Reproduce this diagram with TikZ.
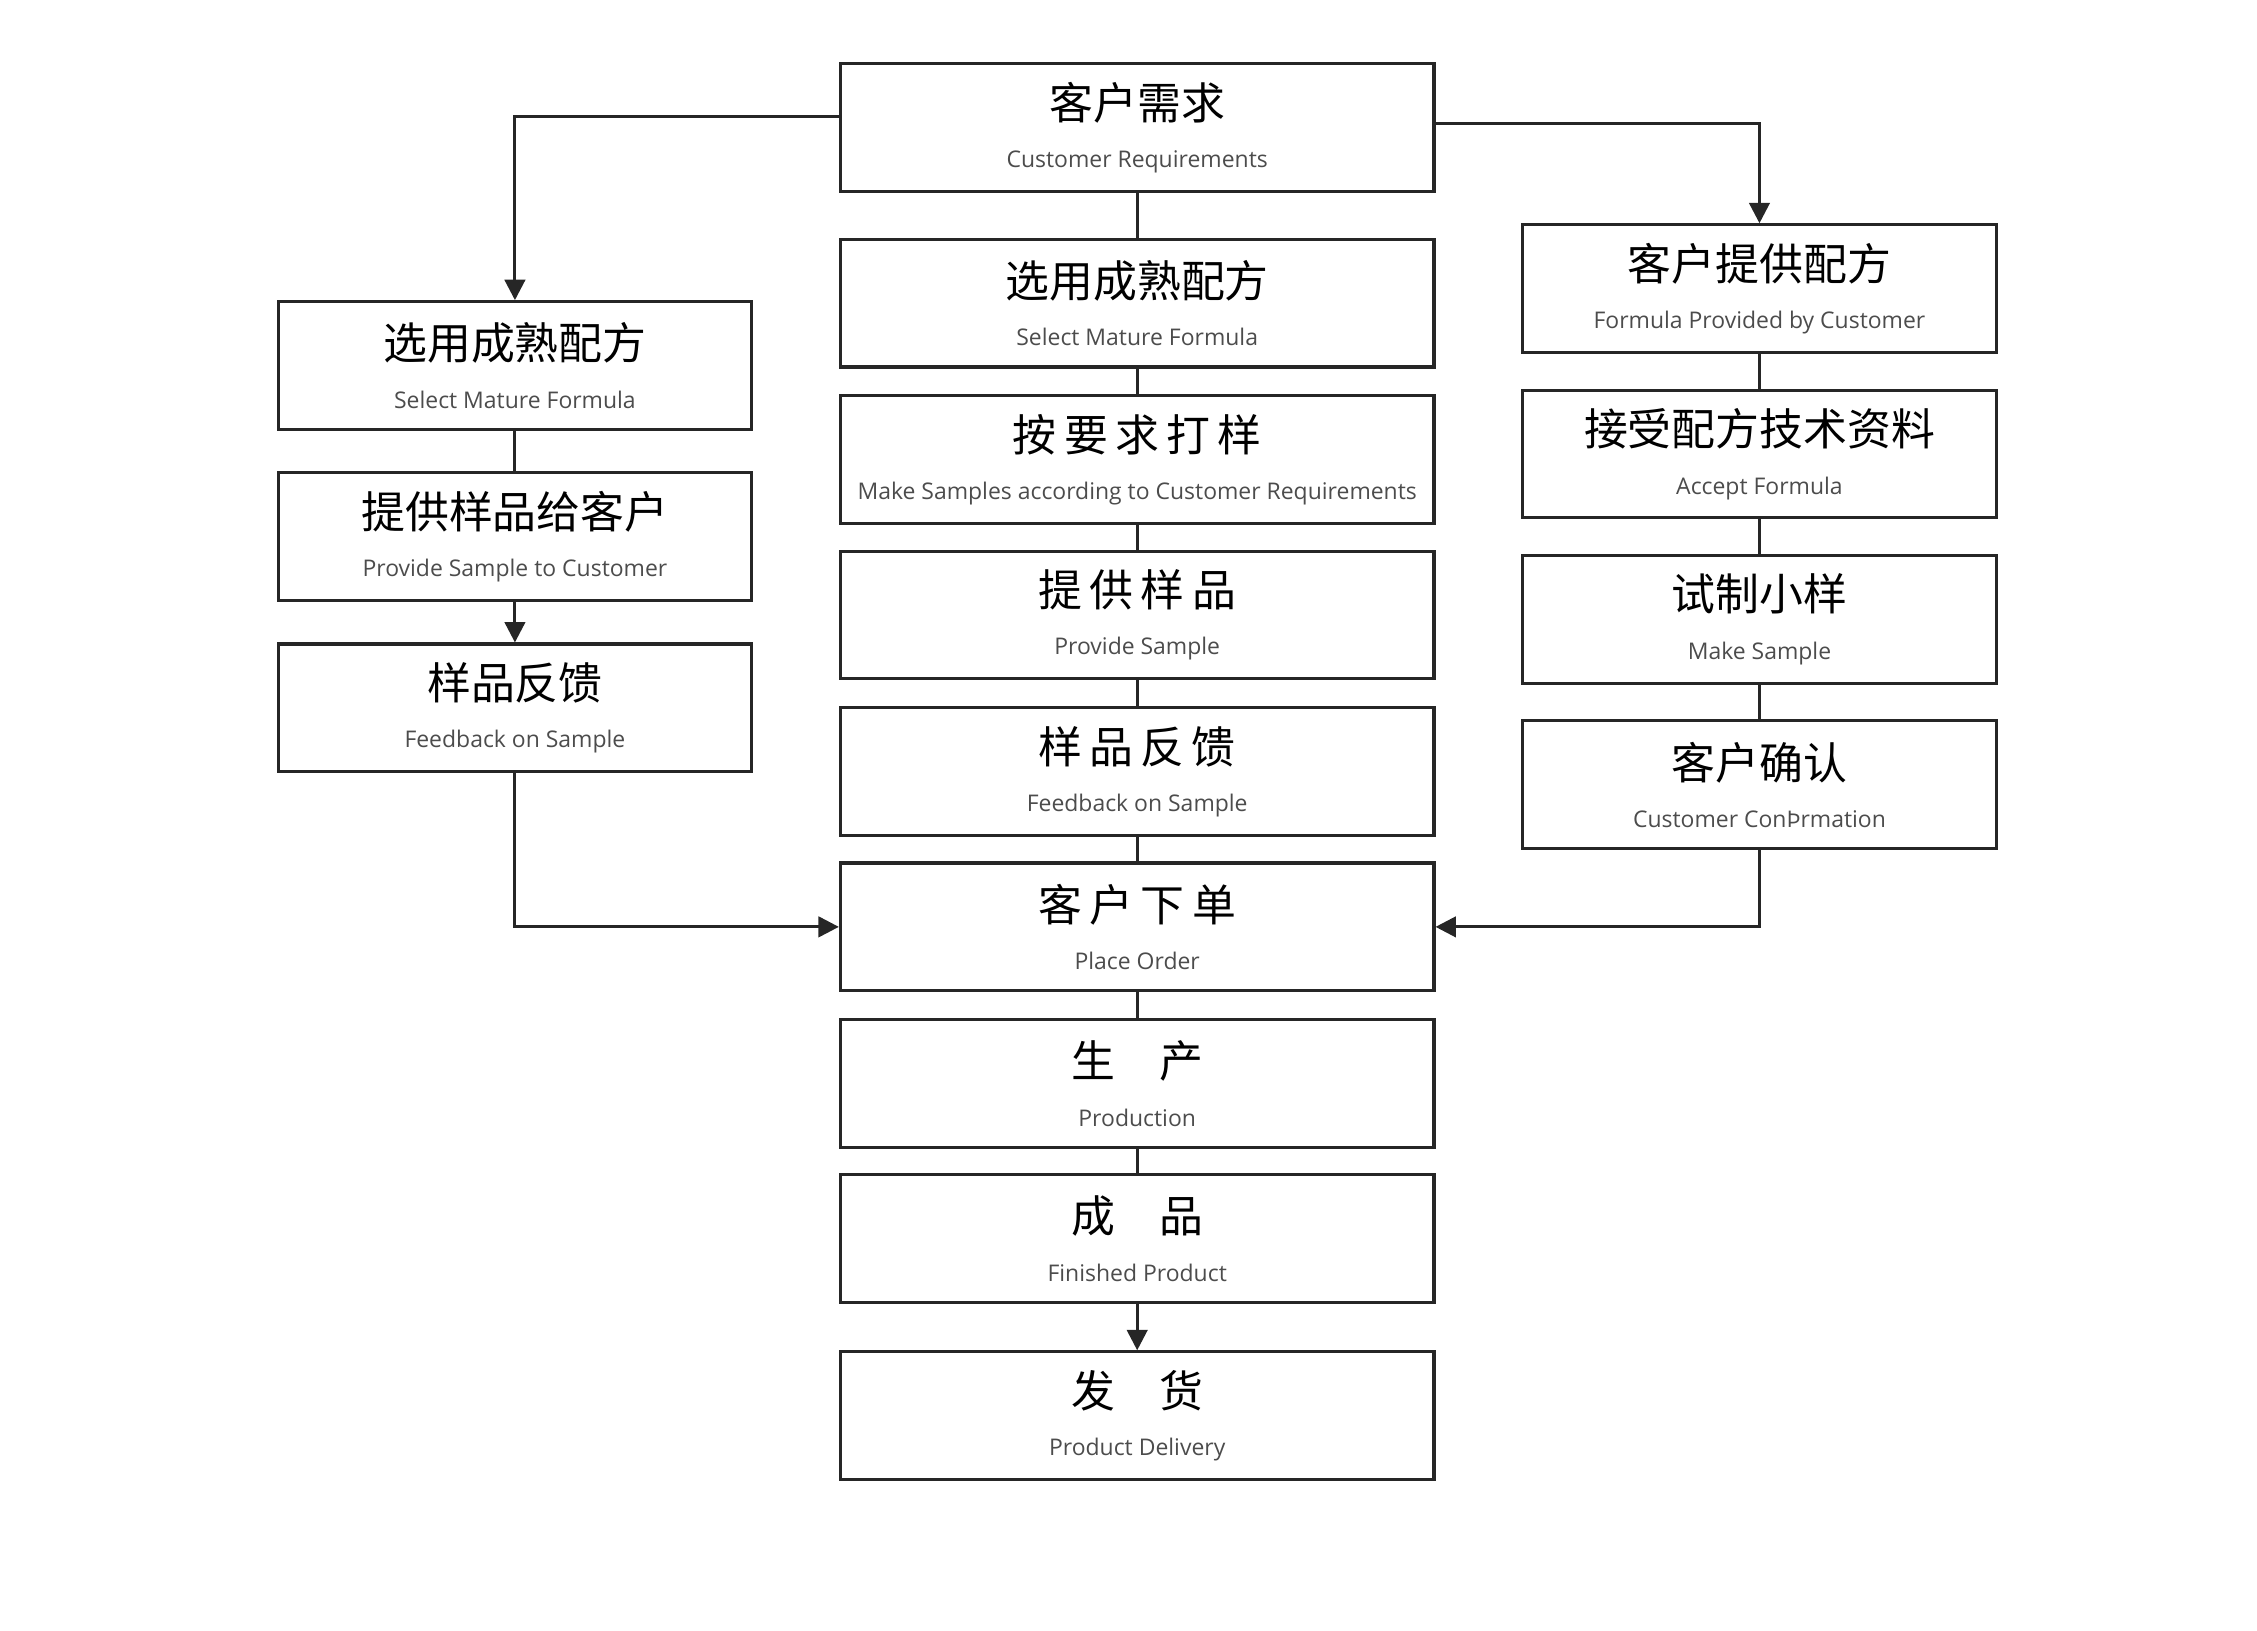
\documentclass[tikz,border=0pt]{standalone}
\usepackage{fontspec}
\setmainfont{Open Sans}
\newfontfamily\cjk{Noto Sans CJK SC}
\usetikzlibrary{arrows.meta}
\begin{document}
\begin{tikzpicture}[x=0.01cm,y=-0.01cm,
  box/.style={draw=black!85,line width=0.6pt,minimum height=0.88cm,inner sep=0pt,align=center},
  cbox/.style={box,minimum width=4.09cm},
  sbox/.style={box,minimum width=3.26cm},
  ln/.style={draw=black!85,line width=0.6pt},
  ar/.style={ln,-{Triangle[length=4pt,width=4pt]}}]
\useasboundingbox (0,0) rectangle (1556,1124);
\newcommand{\tx}[2]{{\cjk\fontsize{8.6pt}{9pt}\selectfont #1}\\[-2.5pt]{\fontsize{4.5pt}{5pt}\selectfont\color{black!70}#2}}
\node[cbox] (c1) at (784,88) {\tx{客户需求}{Customer Requirements}};
\node[cbox] (c2) at (784,209) {\tx{选用成熟配方}{Select Mature Formula}};
\node[cbox] (c3) at (784,317) {\tx{按\,要\,求\,打\,样}{Make Samples according to Customer Requirements}};
\node[cbox] (c4) at (784,424) {\tx{提\,供\,样\,品}{Provide Sample}};
\node[cbox] (c5) at (784,532) {\tx{样\,品\,反\,馈}{Feedback on Sample}};
\node[cbox] (c6) at (784,639) {\tx{客\,户\,下\,单}{Place Order}};
\node[cbox] (c7) at (784,747) {\tx{生\quad 产}{Production}};
\node[cbox] (c8) at (784,854) {\tx{成\quad 品}{Finished Product}};
\node[cbox] (c9) at (784,976) {\tx{发\quad 货}{Product Delivery}};
\node[sbox] (l1) at (355,252) {\tx{选用成熟配方}{Select Mature Formula}};
\node[sbox] (l2) at (355,370) {\tx{提供样品给客户}{Provide Sample to Customer}};
\node[sbox] (l3) at (355,488) {\tx{样品反馈}{Feedback on Sample}};
\node[sbox] (r1) at (1213,199) {\tx{客户提供配方}{Formula Provided by Customer}};
\node[sbox] (r2) at (1213,313) {\tx{接受配方技术资料}{Accept Formula}};
\node[sbox] (r3) at (1213,427) {\tx{试制小样}{Make Sample}};
\node[sbox] (r4) at (1213,541) {\tx{客户确认}{Customer ConÞrmation}};
\foreach \a/\b in {c1/c2,c2/c3,c3/c4,c4/c5,c5/c6,c6/c7,c7/c8,l1/l2,r1/r2,r2/r3,r3/r4}
  \draw[ln] (\a.south) -- (\b.north);
\draw[ar] (c8.south) -- (c9.north);
\draw[ar] (l2.south) -- (l3.north);
\draw[ar] (c1.west |- 0,80) -| (l1.north);
\draw[ar] (c1.east |- 0,85) -| (r1.north);
\draw[ar] (l3.south) |- (c6.west);
\draw[ar] (r4.south) |- (c6.east);
\end{tikzpicture}
\end{document}
